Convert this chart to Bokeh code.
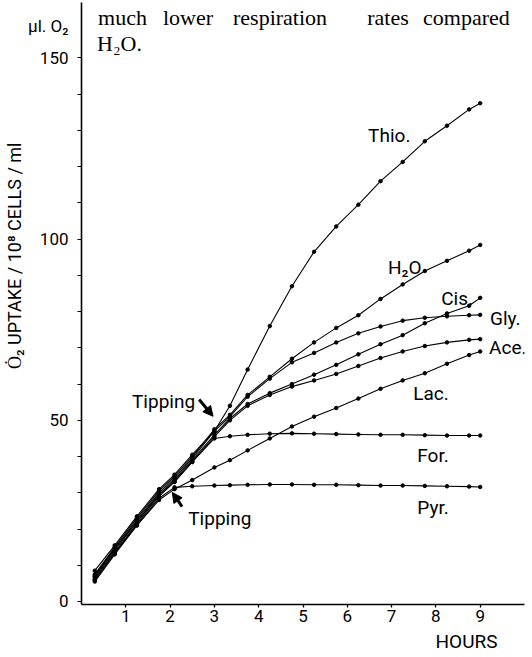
import math
from bokeh.plotting import figure
from bokeh.models import Label, Arrow, NormalHead, FixedTicker, Range1d, Title
from bokeh.embed import file_html
from bokeh.resources import INLINE

# ---- data (hours, µl O2 uptake / 10^8 cells / ml) ----
hours = [0.3, 0.75, 1.25, 1.75, 2.1, 2.5, 3.0, 3.35, 3.75, 4.25, 4.75,
         5.25, 5.75, 6.25, 6.75, 7.25, 7.75, 8.25, 8.75, 9.0]
thio = [8.5, 15.5, 23.5, 31, 35, 40.5, 47, 54, 64, 76, 87,
        96.5, 103.5, 109.5, 116, 121.3, 127, 131.3, 135.8, 137.5]
h2o = [7.5, 15, 23, 30.5, 34.5, 40, 47.5, 51.5, 57, 62, 67,
       71.5, 75.5, 79, 83.5, 87.5, 91.2, 94, 96.8, 98.4]
gly = [7, 14.5, 22.5, 30, 34, 39.5, 47, 51, 56.5, 61.5, 66,
       68.6, 71.5, 74, 75.9, 77.5, 78.3, 78.7, 79, 79.1]
cis = [6.5, 14, 22, 29.5, 33.5, 39, 46, 50.5, 54.5, 57.5, 60,
       62.6, 65.3, 68.2, 71, 73.5, 76.8, 79.5, 81.6, 83.8]
ace = [6, 13.5, 21.5, 29, 33, 38.5, 45.5, 50, 54, 57, 59.3,
       61, 62.8, 65, 67.2, 69, 70.5, 71.5, 72.2, 72.4]
lac = [5.5, 13, 21, 28, 31, 33.5, 37, 39, 41.7, 45, 48.3,
       51, 53.4, 56, 58.7, 61, 63, 65.6, 68, 69]
formate = [7, 14.5, 22, 29.5, 33, 38.5, 45, 45.6, 46, 46.3, 46.4,
           46.3, 46.2, 46.1, 46, 46, 45.9, 45.8, 45.8, 45.8]
pyr = [6, 13.5, 21, 28.5, 31.5, 31.8, 32, 32.1, 32.2, 32.3, 32.3,
       32.2, 32.2, 32.1, 32, 32, 31.9, 31.8, 31.7, 31.6]

series_names = ["Thio.", "H₂O", "Cis.", "Gly.", "Ace.", "Lac.", "For.", "Pyr."]
series_values = [thio, h2o, cis, gly, ace, lac, formate, pyr]
# label anchor (left x, baseline y) in data units
label_x = [6.47, 6.92, 8.12, 9.22, 9.20, 7.49, 7.58, 7.58]
label_y = [128.6, 92.2, 83.6, 78.1, 70.1, 57.4, 40.3, 25.9]

y_ticks = [0, 50, 100, 150, 158.8]
y_tick_text = {158.8: "µl. O₂"}
y_marks = [0, 10, 20, 30, 40, 50, 60, 70, 80, 90, 100, 110, 120, 130, 140, 150]
x_ticks = [1, 2, 3, 4, 5, 6, 7, 8, 9]

SANS = "Roboto"
SERIF = "Liberation Serif"

p = figure(width=532, height=657,
           x_range=Range1d(0, 10.0), y_range=Range1d(-0.83, 165.3),
           output_backend="svg", toolbar_location=None,
           min_border_left=81, min_border_right=8,
           min_border_top=2, min_border_bottom=53)
p.outline_line_color = None
p.grid.visible = False
p.background_fill_color = "white"
p.border_fill_color = "white"

# axes
p.yaxis.ticker = FixedTicker(ticks=y_ticks, minor_ticks=y_marks)
p.yaxis.major_label_overrides = y_tick_text
p.xaxis.ticker = FixedTicker(ticks=x_ticks, minor_ticks=[])
for ax in (p.xaxis[0], p.yaxis[0]):
    ax.axis_line_color = "black"
    ax.axis_line_width = 1.6
    ax.major_tick_line_color = "black"
    ax.minor_tick_line_color = "black"
    ax.major_tick_line_width = 1.3
    ax.minor_tick_line_width = 1.2
    ax.major_tick_in = 0
    ax.minor_tick_in = 0
    ax.major_label_text_font = SANS
    ax.major_label_text_font_size = "17px"
    ax.major_label_text_color = "black"
p.yaxis.major_tick_out = 0
p.yaxis.minor_tick_out = 4
p.yaxis.major_label_standoff = 9
p.xaxis.major_tick_out = 3
p.xaxis.major_label_standoff = 2

# axis titles in the side panels
p.add_layout(Title(text="Ȯ₂ UPTAKE / 10⁸ CELLS / ml", align="right", offset=140,
                   standoff=2, text_font=SANS, text_font_size="18px",
                   text_font_style="normal", text_color="black"), "left")
p.add_layout(Title(text="HOURS", align="right", offset=27, standoff=6,
                   text_font=SANS, text_font_size="19px",
                   text_font_style="normal", text_color="black"), "below")

# curves
for vals in series_values:
    p.line(hours, vals, line_color="black", line_width=1.1)
    p.scatter(hours, vals, size=3.5, color="black")

# series labels
for name, lx, ly in zip(series_names, label_x, label_y):
    p.add_layout(Label(x=lx, y=ly, text=name, text_font=SANS,
                       text_font_size="19px", text_color="black",
                       text_baseline="alphabetic", text_align="left"))

# tipping annotations
p.add_layout(Label(x=1.14, y=55.2, text="Tipping", text_font=SANS,
                   text_font_size="19px", text_color="black",
                   text_baseline="alphabetic"))
p.add_layout(Label(x=2.41, y=22.9, text="Tipping", text_font=SANS,
                   text_font_size="19px", text_color="black",
                   text_baseline="alphabetic"))
p.add_layout(Arrow(x_start=2.655, y_start=55.75, x_end=2.97, y_end=51.1,
                   line_width=3, line_color="black",
                   end=NormalHead(size=10, fill_color="black", line_color="black")))
p.add_layout(Arrow(x_start=2.27, y_start=26.2, x_end=2.05, y_end=30.1,
                   line_width=3, line_color="black",
                   end=NormalHead(size=10, fill_color="black", line_color="black")))

# text of the page above the figure
words = ["much", "lower", "respiration", "rates", "compared"]
word_x = [0.375, 1.84, 3.42, 6.45, 7.71]
for w, wx in zip(words, word_x):
    p.add_layout(Label(x=wx, y=161.2, text=w, text_font=SERIF,
                       text_font_size="22px", text_color="black",
                       text_baseline="alphabetic"))
p.add_layout(Label(x=0.35, y=154.0, text="H₂O.", text_font=SERIF,
                   text_font_size="22px", text_color="black",
                   text_baseline="alphabetic"))

open("out.html", "w").write(file_html(p, INLINE))
